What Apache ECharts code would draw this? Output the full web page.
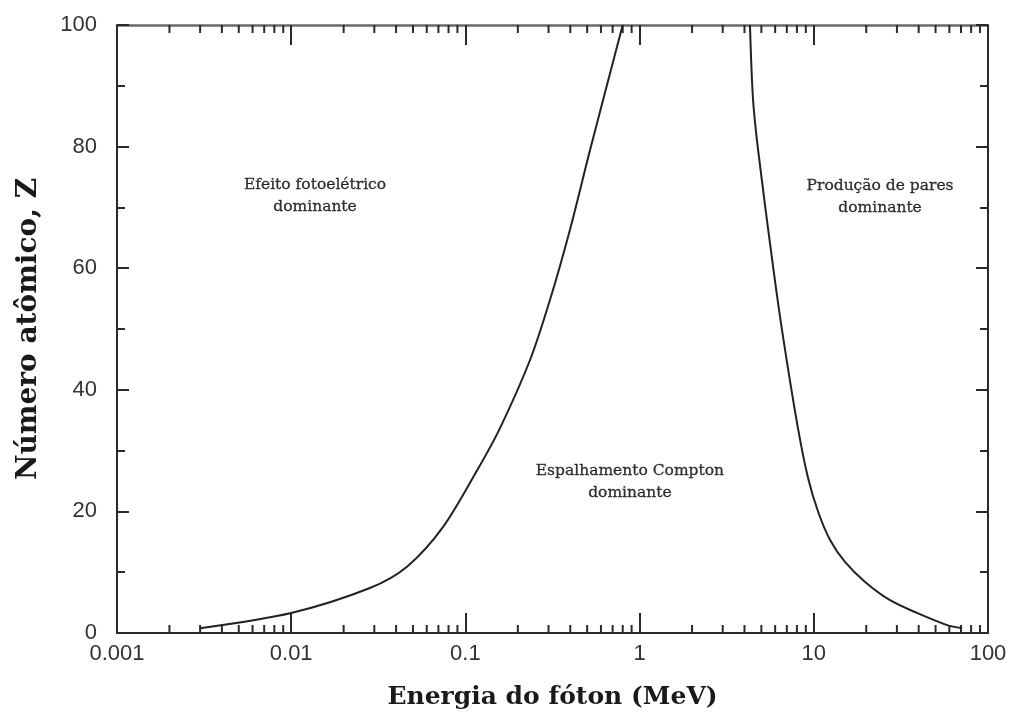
<!DOCTYPE html>
<html>
<head>
<meta charset="utf-8">
<script src="https://cdn.jsdelivr.net/npm/echarts@6/dist/echarts.min.js"></script>
<style>
  html, body { margin: 0; padding: 0; background: #fff; }
  #chart { width: 1016px; height: 722px; }
</style>
</head>
<body>
<div id="chart"></div>
<script>
// Boundary between photoelectric effect and Compton scattering (E in MeV, Z)
const photoComptonE = [0.003, 0.01, 0.0283, 0.0462, 0.0743, 0.117, 0.158, 0.235, 0.306, 0.398, 0.519, 0.80];
const photoComptonZ = [0.8, 3.3, 7.4, 10.9, 17.4, 26.8, 33.7, 44.9, 54.8, 66.3, 79.4, 100];

// Boundary between Compton scattering and pair production
const comptonPairE = [4.30, 4.48, 4.79, 5.84, 6.66, 8.11, 9.27, 10.6, 12.4, 15.1, 19.7, 27.4, 39.1, 58.2, 71];
const comptonPairZ = [100, 87.7, 79.4, 60.2, 48.7, 33.7, 25.5, 19.9, 15.3, 11.7, 8.4, 5.4, 3.3, 1.3, 0.8];

// Region labels and where they sit (E, Z)
const regionNames = ['Efeito fotoelétrico\ndominante', 'Espalhamento Compton\ndominante', 'Produção de pares\ndominante'];
const regionE = [0.0137, 0.88, 24];
const regionZ = [71.9, 24.8, 71.7];

// Axis ticks
const xDecades = [0.001, 0.01, 0.1, 1, 10];
const xMinorMultipliers = [2, 3, 4, 5, 6, 7, 8, 9];
const xTickLabels = { 0.001: '0.001', 0.01: '0.01', 0.1: '0.1', 1: '1', 10: '10', 100: '100' };
const yTicks = [0, 20, 40, 60, 80, 100];

const pairs = (xs, ys) => xs.map((x, i) => [x, ys[i]]);
const minorTickValues = [];
xDecades.forEach(d => xMinorMultipliers.forEach(m => minorTickValues.push([+(d * m).toPrecision(3)])));

const axisColor = '#2a2a2a';
const serif = '"DejaVu Serif", "Liberation Serif", serif';
const sans = '"Liberation Sans", Arial, sans-serif';

const chart = echarts.init(document.getElementById('chart'), null, { renderer: 'canvas' });

const logAxisBase = {
  type: 'log',
  logBase: 10,
  min: 0.001,
  max: 100,
  splitLine: { show: false },
  minorTick: { show: false },
  axisTick: { show: true, inside: true, length: 20, lineStyle: { color: axisColor, width: 2 } }
};

const yAxisBase = {
  type: 'value',
  min: 0,
  max: 100,
  interval: 20,
  splitLine: { show: false },
  axisTick: { show: true, inside: true, length: 12, lineStyle: { color: axisColor, width: 2 } },
  minorTick: { show: true, splitNumber: 2, length: 8, lineStyle: { color: axisColor, width: 2 } }
};

chart.setOption({
  animation: false,
  backgroundColor: '#fff',
  grid: { left: 117, right: 28, top: 25, bottom: 89, containLabel: false },
  xAxis: [
    Object.assign({}, logAxisBase, {
      position: 'bottom',
      axisLine: { show: true, onZero: false, lineStyle: { color: axisColor, width: 2 } },
      axisLabel: {
        show: true,
        margin: 10,
        color: '#333',
        fontFamily: sans,
        fontSize: 22,
        formatter: v => xTickLabels[+v.toPrecision(3)] || ''
      },
      name: 'Energia do fóton (MeV)',
      nameLocation: 'middle',
      nameGap: 52,
      nameTextStyle: { fontFamily: serif, fontSize: 25, fontWeight: 'bold', color: '#1a1a1a' }
    }),
    Object.assign({}, logAxisBase, {
      position: 'top',
      axisLine: { show: true, onZero: false, lineStyle: { color: '#6a6a6a', width: 2.5 } },
      axisLabel: { show: false }
    })
  ],
  yAxis: [
    Object.assign({}, yAxisBase, {
      position: 'left',
      axisLine: { show: true, onZero: false, lineStyle: { color: axisColor, width: 2 } },
      axisLabel: {
        show: true,
        margin: 20,
        color: '#333',
        fontFamily: sans,
        fontSize: 22,
        formatter: v => (yTicks.indexOf(v) >= 0 ? String(v) : '')
      },
      name: 'Número atômico, Z',
      nameLocation: 'middle',
      nameGap: 74,
      nameRotate: 90,
      nameTextStyle: { fontFamily: serif, fontSize: 28, fontWeight: 'bold', color: '#1a1a1a' }
    }),
    Object.assign({}, yAxisBase, {
      position: 'right',
      axisLine: { show: true, onZero: false, lineStyle: { color: axisColor, width: 2 } },
      axisLabel: { show: false }
    })
  ],
  series: [
    {
      name: 'Fotoelétrico / Compton',
      type: 'line',
      xAxisIndex: 0,
      yAxisIndex: 0,
      data: pairs(photoComptonE, photoComptonZ),
      smooth: 0.3,
      symbol: 'none',
      lineStyle: { color: '#222', width: 2 },
      clip: true
    },
    {
      name: 'Compton / pares',
      type: 'line',
      xAxisIndex: 0,
      yAxisIndex: 0,
      data: pairs(comptonPairE, comptonPairZ),
      smooth: 0.3,
      symbol: 'none',
      lineStyle: { color: '#222', width: 2 },
      clip: true
    },
    {
      // minor logarithmic ticks on the bottom and top axes
      name: 'minorTicks',
      type: 'custom',
      xAxisIndex: 0,
      yAxisIndex: 0,
      silent: true,
      clip: false,
      data: minorTickValues,
      renderItem: (params, api) => {
        const v = api.value(0);
        const b = api.coord([v, 0]);
        const t = api.coord([v, 100]);
        const style = { stroke: axisColor, lineWidth: 2 };
        return {
          type: 'group',
          children: [
            { type: 'line', shape: { x1: b[0], y1: b[1], x2: b[0], y2: b[1] - 8 }, style },
            { type: 'line', shape: { x1: t[0], y1: t[1], x2: t[0], y2: t[1] + 8 }, style }
          ]
        };
      }
    },
    {
      name: 'regiões',
      type: 'scatter',
      xAxisIndex: 0,
      yAxisIndex: 0,
      silent: true,
      symbolSize: 0,
      data: regionNames.map((n, i) => ({ name: n, value: [regionE[i], regionZ[i]] })),
      label: {
        show: true,
        position: 'inside',
        formatter: p => p.name,
        fontFamily: serif,
        fontSize: 15.5,
        lineHeight: 22,
        align: 'center',
        color: '#000',
        textBorderColor: '#000',
        textBorderWidth: 0.3
      }
    }
  ]
});
</script>
</body>
</html>
